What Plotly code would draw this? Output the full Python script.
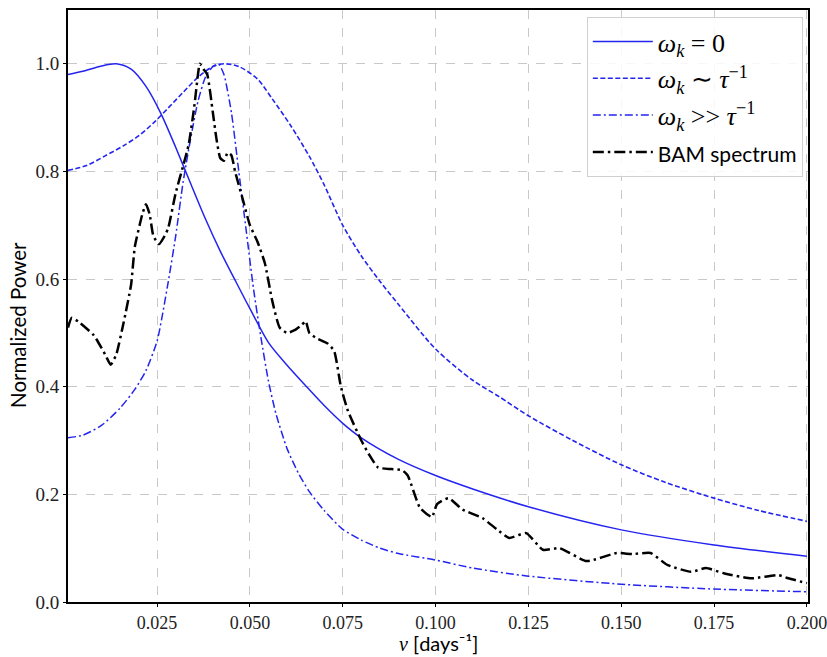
import plotly.graph_objects as go

# ---------------- data ----------------
x_w0 = [0.001, 0.005, 0.010, 0.014, 0.018, 0.022, 0.026, 0.030, 0.034, 0.038,
        0.042, 0.046, 0.050, 0.055, 0.060, 0.065, 0.070, 0.075, 0.080, 0.090,
        0.100, 0.110, 0.125, 0.150, 0.175, 0.200]
y_w0 = [0.980, 0.986, 0.996, 1.000, 0.990, 0.958, 0.908, 0.845, 0.778, 0.712,
        0.652, 0.598, 0.545, 0.482, 0.440, 0.402, 0.365, 0.332, 0.305, 0.265,
        0.235, 0.210, 0.177, 0.134, 0.106, 0.085]

x_wtau = [0.001, 0.006, 0.011, 0.016, 0.020, 0.024, 0.028, 0.032, 0.036, 0.040,
          0.043, 0.047, 0.052, 0.056, 0.061, 0.066, 0.070, 0.075, 0.080, 0.085,
          0.090, 0.100, 0.110, 0.117, 0.125, 0.137, 0.150, 0.162, 0.175, 0.187, 0.200]
y_wtau = [0.802, 0.811, 0.829, 0.848, 0.866, 0.890, 0.918, 0.947, 0.975, 0.995,
          1.000, 0.995, 0.972, 0.935, 0.885, 0.828, 0.775, 0.700, 0.643, 0.596,
          0.553, 0.470, 0.412, 0.382, 0.346, 0.300, 0.255, 0.222, 0.193, 0.170, 0.150]

x_wbig = [0.001, 0.005, 0.010, 0.015, 0.019, 0.022, 0.025, 0.028, 0.030, 0.032,
          0.034, 0.036, 0.038, 0.040, 0.0415, 0.043, 0.045, 0.047, 0.049, 0.051,
          0.053, 0.055, 0.057, 0.060, 0.063, 0.066, 0.070, 0.075, 0.080, 0.085,
          0.090, 0.100, 0.110, 0.125, 0.150, 0.175, 0.200]
y_wbig = [0.305, 0.310, 0.328, 0.360, 0.395, 0.430, 0.485, 0.595, 0.680, 0.780,
          0.860, 0.930, 0.975, 0.995, 1.000, 0.980, 0.910, 0.800, 0.690, 0.580,
          0.490, 0.410, 0.350, 0.285, 0.240, 0.205, 0.170, 0.135, 0.115, 0.100,
          0.090, 0.078, 0.063, 0.048, 0.033, 0.024, 0.019]

x_bam = [0.001, 0.002, 0.004, 0.008, 0.011, 0.0125, 0.014, 0.016, 0.018, 0.019,
         0.021, 0.022, 0.023, 0.024, 0.0255, 0.027, 0.028, 0.030, 0.032, 0.0335,
         0.035, 0.036, 0.0365, 0.0375, 0.0385, 0.040, 0.041, 0.042, 0.043, 0.044,
         0.045, 0.046, 0.048, 0.050, 0.052, 0.054, 0.056, 0.058, 0.060, 0.062,
         0.064, 0.065, 0.066, 0.068, 0.071, 0.0727, 0.0745, 0.0764, 0.080, 0.082,
         0.0845, 0.088, 0.091, 0.0925, 0.0958, 0.099, 0.1004, 0.1035, 0.1072, 0.1126,
         0.1165, 0.1198, 0.1244, 0.1289, 0.1334, 0.1407, 0.1488, 0.153, 0.1579, 0.1624,
         0.1688, 0.1728, 0.1778, 0.185, 0.1923, 0.195, 0.200]
y_bam = [0.510, 0.528, 0.520, 0.495, 0.460, 0.441, 0.460, 0.520, 0.590, 0.660,
         0.720, 0.739, 0.720, 0.680, 0.665, 0.680, 0.695, 0.760, 0.810, 0.850,
         0.920, 0.980, 1.000, 0.990, 0.980, 0.910, 0.860, 0.825, 0.820, 0.835,
         0.830, 0.800, 0.750, 0.700, 0.670, 0.630, 0.560, 0.510, 0.500, 0.505,
         0.515, 0.522, 0.500, 0.490, 0.480, 0.466, 0.400, 0.355, 0.300, 0.275,
         0.250, 0.247, 0.245, 0.235, 0.175, 0.158, 0.182, 0.193, 0.172, 0.156,
         0.135, 0.119, 0.128, 0.097, 0.100, 0.076, 0.091, 0.089, 0.091, 0.069,
         0.056, 0.063, 0.053, 0.044, 0.050, 0.044, 0.035]

names = ["<i>ω<sub>k</sub></i> = 0",
         "<i>ω<sub>k</sub></i> ∼ <i>τ</i><sup>−1</sup>",
         "<i>ω<sub>k</sub></i> &gt;&gt; <i>τ</i><sup>−1</sup>",
         "<span style='font-family:Lato, DejaVu Sans;font-size:21px'>BAM spectrum</span>"]

x_ticks = [0.025, 0.050, 0.075, 0.100, 0.125, 0.150, 0.175, 0.200]
x_ticktext = ["0.025", "0.050", "0.075", "0.100", "0.125", "0.150", "0.175", "0.200"]
y_ticks = [0.0, 0.2, 0.4, 0.6, 0.8, 1.0]
y_ticktext = ["0.0", "0.2", "0.4", "0.6", "0.8", "1.0"]
x_title = "<i style='font-family:Liberation Serif'>ν</i> [days⁻¹]"
y_title = "Normalized Power"

BLUE = "#2424f0"

fig = go.Figure()
fig.add_trace(go.Scatter(x=x_w0, y=y_w0, mode="lines", name=names[0],
                         line=dict(color=BLUE, width=1.5, shape="spline", smoothing=0.8)))
fig.add_trace(go.Scatter(x=x_wtau, y=y_wtau, mode="lines", name=names[1],
                         line=dict(color=BLUE, width=1.6, dash="5px,2.5px",
                                   shape="spline", smoothing=0.8)))
fig.add_trace(go.Scatter(x=x_wbig, y=y_wbig, mode="lines", name=names[2],
                         line=dict(color=BLUE, width=1.5, dash="8px,3px,2px,3px",
                                   shape="spline", smoothing=0.6)))
fig.add_trace(go.Scatter(x=x_bam, y=y_bam, mode="lines", name=names[3],
                         line=dict(color="black", width=2.5, dash="11px,4px,2.5px,4px",
                                   shape="spline", smoothing=0.5)))

grid = dict(showgrid=True, gridcolor="#c8c8c8", griddash="dash", gridwidth=1)

fig.update_xaxes(range=[0.001, 0.2003], tickvals=x_ticks, ticktext=x_ticktext,
                 showline=True, linecolor="black", linewidth=2, mirror=True,
                 ticks="outside", ticklen=3, tickcolor="black",
                 ticklabeloverflow="allow",
                 tickfont=dict(family="Liberation Serif, serif", size=18, color="#222"),
                 zeroline=False, **grid)
fig.update_yaxes(range=[0, 1.1], tickvals=y_ticks, ticktext=y_ticktext,
                 showline=True, linecolor="black", linewidth=2, mirror=True,
                 ticks="outside", ticklen=3, tickcolor="black",
                 tickfont=dict(family="Liberation Serif, serif", size=19, color="#222"),
                 zeroline=False, **grid)

fig.add_annotation(text=y_title, xref="paper", yref="paper",
                   x=-0.0676, y=0.468, xanchor="center", yanchor="middle",
                   textangle=-90, showarrow=False,
                   font=dict(family="Lato, DejaVu Sans, sans-serif", size=20.5, color="black"))
fig.add_annotation(text=x_title, xref="paper", yref="paper",
                   x=0.5, y=-0.070, xanchor="center", yanchor="middle",
                   showarrow=False,
                   font=dict(family="Lato, DejaVu Sans, sans-serif", size=20, color="black"))

fig.update_layout(
    width=827, height=657,
    margin=dict(l=68, r=19, t=10, b=55, autoexpand=False),
    plot_bgcolor="white", paper_bgcolor="white",
    showlegend=True,
    legend=dict(x=0.993, y=0.988, xanchor="right", yanchor="top",
                bgcolor="rgba(255,255,255,0.85)", bordercolor="#d0d0d0", borderwidth=1,
                font=dict(family="Liberation Serif, serif", size=26, color="black"),
                itemwidth=60),
)

fig.write_html("out.html", config={"displayModeBar": False},
               post_script="document.body.style.margin='0px';")
